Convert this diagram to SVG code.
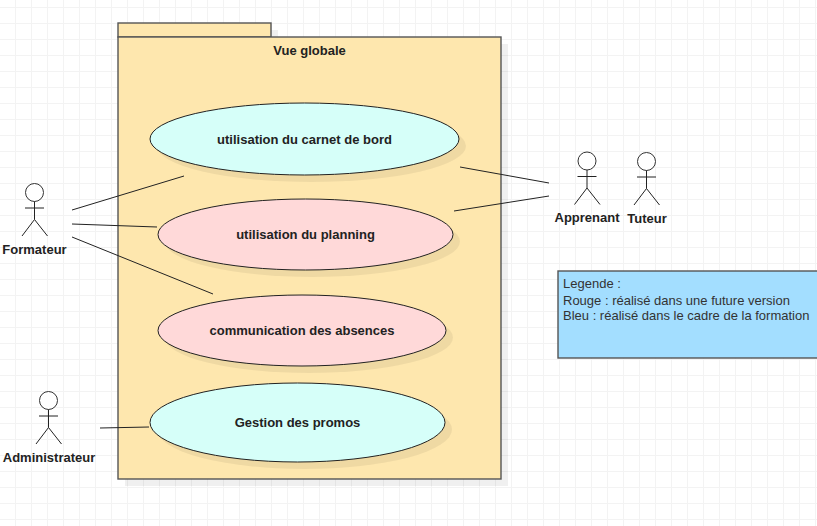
<svg xmlns="http://www.w3.org/2000/svg" width="817" height="526" viewBox="0 0 817 526">
<style>
text{font-family:"Liberation Sans",Arial,sans-serif;fill:#222}
.b{font-weight:bold;font-size:13px;text-anchor:middle}
.r{font-size:13px;fill:#333}
.pkg{fill:#fee7ae;stroke:#555;stroke-width:1.4}
.sh{fill:#000;opacity:.06}
.uc{stroke:#222;stroke-width:1}
.blue{fill:#d6fff9}
.red{fill:#ffd9d9}
.a{fill:none;stroke:#222;stroke-width:1}
.c{fill:none;stroke:#222;stroke-width:1}
</style>
<defs>
<pattern id="grid" width="16" height="16" patternUnits="userSpaceOnUse" x="-1" y="7">
<path d="M0.5 0V16M0 0.5H16" fill="none" stroke="#f3f3f3" stroke-width="1"/>
</pattern>
<g id="stick">
<circle cx="0" cy="0" r="9" fill="#fff" stroke="#333"/>
<path class="a" d="M0 9V27M-9.500 15.500H9.500M-12.500 43.500L0 27L13 43.500"/>
</g>
</defs>
<rect width="817" height="526" fill="#fff"/>
<rect width="817" height="526" fill="url(#grid)"/>
<g id="package">
<rect class="sh" x="125" y="30" width="153" height="14"/>
<rect class="sh" x="125" y="44" width="383" height="442"/>
<rect class="pkg" x="118" y="23" width="153" height="14"/>
<rect class="pkg" x="118" y="37" width="383" height="442"/>
<text class="b" x="309.500" y="55">Vue globale</text>
</g>
<g id="uc1">
<ellipse class="sh" cx="311.500" cy="146" rx="154.500" ry="36"/>
<ellipse class="uc blue" cx="304.500" cy="139" rx="154.500" ry="36"/>
<text class="b" x="304.500" y="144">utilisation du carnet de bord</text>
</g>
<g id="uc2">
<ellipse class="sh" cx="312.500" cy="241.500" rx="147.500" ry="35.500"/>
<ellipse class="uc red" cx="305.500" cy="234.500" rx="147.500" ry="35.500"/>
<text class="b" x="305.500" y="239">utilisation du planning</text>
</g>
<g id="uc3">
<ellipse class="sh" cx="309" cy="337.500" rx="144" ry="35.500"/>
<ellipse class="uc red" cx="302" cy="330.500" rx="144" ry="35.500"/>
<text class="b" x="302" y="335">communication des absences</text>
</g>
<g id="uc4">
<ellipse class="sh" cx="304.500" cy="429.500" rx="147.500" ry="39.500"/>
<ellipse class="uc blue" cx="297.500" cy="422.500" rx="147.500" ry="39.500"/>
<text class="b" x="297.500" y="427">Gestion des promos</text>
</g>
<g id="connectors">
<path class="c" d="M72 210L184 176M72 224L157 227M72 237L213 294M100 428L149 427M460 167L549 183M454 211L549 196"/>
</g>
<g id="formateur">
<use href="#stick" x="34.500" y="192.500"/>
<text class="b" x="34.500" y="254">Formateur</text>
</g>
<g id="apprenant">
<use href="#stick" x="587" y="161"/>
<text class="b" x="587" y="222">Apprenant</text>
</g>
<g id="tuteur">
<use href="#stick" x="646.500" y="161.500"/>
<text class="b" x="647" y="223">Tuteur</text>
</g>
<g id="administrateur">
<use href="#stick" x="48.500" y="400.500"/>
<text class="b" x="49" y="462">Administrateur</text>
</g>
<g id="legende">
<rect x="558" y="271" width="270" height="87" fill="#a3deff" stroke="#555" stroke-width="1.4"/>
<text class="r" x="563" y="288">Legende :</text>
<text class="r" x="563" y="305">Rouge : réalisé dans une future version</text>
<text class="r" x="563" y="320">Bleu : réalisé dans le cadre de la formation</text>
</g>
</svg>
